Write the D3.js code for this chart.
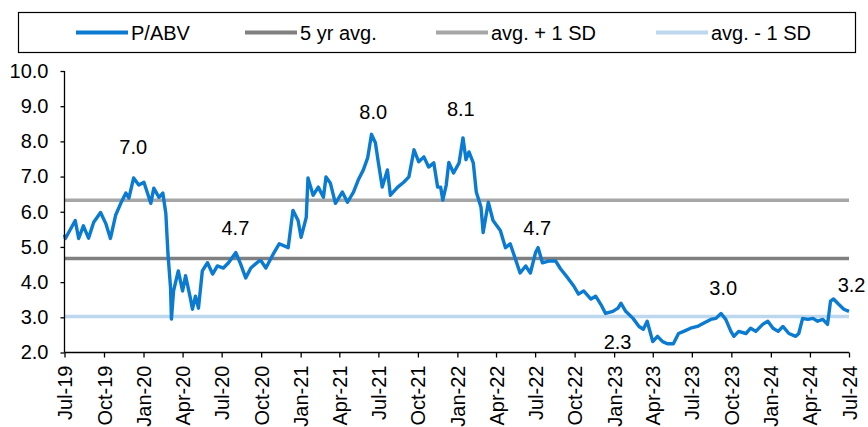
<!DOCTYPE html>
<html>
<head>
<meta charset="utf-8">
<script src="https://cdn.jsdelivr.net/npm/d3@7/dist/d3.min.js"></script>
<style>
  html, body { margin: 0; padding: 0; background: #fff; }
  svg { display: block; font-family: "Liberation Sans", Arial, sans-serif; }
</style>
</head>
<body>
<svg id="chart" width="868" height="427"></svg>
<script>
// ---- data ----
const dates = [
 "2019-07-01","2019-07-03","2019-07-26","2019-08-03","2019-08-14","2019-08-26","2019-09-07","2019-09-23",
 "2019-10-05","2019-10-16","2019-10-28","2019-11-09","2019-11-21","2019-11-28","2019-12-09","2019-12-21",
 "2020-01-02","2020-01-18","2020-01-25","2020-02-06","2020-02-15","2020-02-22","2020-02-27","2020-03-04",
 "2020-03-06","2020-03-11","2020-03-22","2020-04-01","2020-04-08","2020-04-19","2020-04-24","2020-05-01",
 "2020-05-08","2020-05-17","2020-05-29","2020-06-10","2020-06-21","2020-07-05","2020-07-17","2020-08-03",
 "2020-08-14","2020-08-26","2020-09-07","2020-09-26","2020-10-01","2020-10-12","2020-10-31","2020-11-12",
 "2020-12-03","2020-12-14","2020-12-26","2021-01-02","2021-01-14","2021-01-18","2021-01-30","2021-02-11",
 "2021-02-23","2021-03-01","2021-03-11","2021-03-23","2021-04-08","2021-04-20","2021-05-04","2021-05-15",
 "2021-05-27","2021-06-06","2021-06-15","2021-06-24","2021-07-01","2021-07-10","2021-07-22","2021-07-29",
 "2021-08-15","2021-08-29","2021-09-10","2021-09-22","2021-10-03","2021-10-15","2021-10-26","2021-11-07",
 "2021-11-16","2021-11-23","2021-11-28","2021-12-06","2021-12-12","2021-12-23","2022-01-05","2022-01-14",
 "2022-01-21","2022-01-28","2022-02-07","2022-02-14","2022-02-25","2022-03-02","2022-03-14","2022-03-25",
 "2022-04-11","2022-04-23","2022-05-04","2022-05-16","2022-05-27","2022-06-09","2022-06-20","2022-07-02",
 "2022-07-08","2022-07-18","2022-08-01","2022-08-18","2022-08-29","2022-09-15","2022-09-29","2022-10-10",
 "2022-10-22","2022-11-08","2022-11-19","2022-12-01","2022-12-12","2022-12-29","2023-01-10","2023-01-17",
 "2023-01-28","2023-02-14","2023-02-28","2023-03-10","2023-03-19","2023-04-01","2023-04-12","2023-04-24",
 "2023-05-05","2023-05-19","2023-05-31","2023-06-12","2023-06-28","2023-07-14","2023-07-28","2023-08-14",
 "2023-08-26","2023-09-07","2023-09-18","2023-09-30","2023-10-07","2023-10-18","2023-11-04","2023-11-15",
 "2023-11-27","2023-12-13","2023-12-25","2024-01-06","2024-01-18","2024-01-29","2024-02-12","2024-02-28",
 "2024-03-06","2024-03-15","2024-03-27","2024-04-08","2024-04-19","2024-05-01","2024-05-12","2024-05-19",
 "2024-05-26","2024-06-07","2024-06-19","2024-07-01"
];
const pabv = [
 5.35,5.24,5.75,5.24,5.60,5.25,5.70,5.98,
 5.67,5.24,5.90,6.24,6.53,6.39,6.96,6.76,
 6.84,6.24,6.67,6.41,6.53,5.95,4.80,3.83,
 2.95,3.75,4.32,3.75,4.18,3.55,3.23,3.60,
 3.26,4.32,4.55,4.23,4.46,4.40,4.55,4.84,
 4.52,4.12,4.40,4.60,4.60,4.40,4.84,5.09,
 4.98,6.04,5.75,5.27,5.84,6.96,6.47,6.70,
 6.41,6.99,6.82,6.24,6.56,6.27,6.56,6.90,
 7.19,7.53,8.20,7.96,7.39,6.70,7.19,6.47,
 6.70,6.84,6.99,7.76,7.42,7.56,7.27,7.39,
 6.70,6.70,6.33,6.76,7.40,7.10,7.39,8.10,
 7.48,7.70,7.39,6.56,6.13,5.41,6.27,5.75,
 5.47,4.98,5.09,4.66,4.26,4.46,4.26,4.84,
 4.98,4.55,4.60,4.60,4.38,4.12,3.89,3.66,
 3.75,3.52,3.60,3.37,3.11,3.17,3.26,3.40,
 3.17,2.97,2.74,2.66,2.89,2.31,2.46,2.31,
 2.25,2.25,2.54,2.60,2.69,2.74,2.83,2.94,
 2.97,3.11,2.94,2.60,2.46,2.60,2.54,2.69,
 2.60,2.80,2.89,2.69,2.60,2.74,2.54,2.46,
 2.54,2.97,2.94,2.97,2.89,2.94,2.80,3.46,
 3.52,3.37,3.23,3.17
];
const avg5yr = 4.67;
const avgPlus1SD = 6.33;
const avgMinus1SD = 3.02;

const seriesNames = ["P/ABV", "5 yr avg.", "avg. + 1 SD", "avg. - 1 SD"];
const seriesColors = ["#0A7BD1", "#808080", "#A6A6A6", "#BDD7EE"];

const yTicks = [2, 3, 4, 5, 6, 7, 8, 9, 10];
const xTickStart = "2019-07-01", xTickEnd = "2024-07-01";

// annotation labels: text, anchor date, anchor y (in value units)
const annoText  = ["7.0","4.7","8.0","8.1","4.7","2.3","3.0","3.2"];
const annoDate  = ["2019-12-08","2020-08-02","2021-06-19","2022-01-09","2022-07-06","2023-01-09","2023-09-12","2024-07-07"];
const annoY     = [7.84, 5.53, 8.83, 8.92, 5.53, 2.31, 3.82, 3.91];

// ---- drawing ----
const parse = d3.timeParse("%Y-%m-%d");
const svg = d3.select("#chart");
const X0 = 64.5, X1 = 849, Y0 = 352.5, Y1 = 71;

const x = d3.scaleTime().domain([parse(xTickStart), parse(xTickEnd)]).range([X0, X1]);
const y = d3.scaleLinear().domain([2, 10]).range([Y0, Y1]);

const FS = 20;

// legend box
svg.append("rect").attr("x", 18.5).attr("y", 12.5).attr("width", 837).attr("height", 40)
  .attr("fill", "#fff").attr("stroke", "#000").attr("stroke-width", 1.2);
const legX = [76, 245, 436, 656];
seriesNames.forEach((n, i) => {
  const g = svg.append("g");
  g.append("line").attr("x1", legX[i]).attr("x2", legX[i] + 52).attr("y1", 32.5).attr("y2", 32.5)
    .attr("stroke", seriesColors[i]).attr("stroke-width", 4);
  g.append("text").attr("x", legX[i] + 55).attr("y", 40).attr("font-size", FS).attr("fill", "#000").text(n);
});

// reference lines
const refVals = [avg5yr, avgPlus1SD, avgMinus1SD];
refVals.forEach((v, i) => {
  svg.append("line").attr("x1", X0).attr("x2", X1).attr("y1", y(v)).attr("y2", y(v))
    .attr("stroke", seriesColors[i + 1]).attr("stroke-width", 3.5);
});

// main series
const data = dates.map((d, i) => ({ d: parse(d), v: pabv[i] }));
svg.append("path").datum(data)
  .attr("fill", "none").attr("stroke", seriesColors[0]).attr("stroke-width", 3.4)
  .attr("stroke-linejoin", "round")
  .attr("d", d3.line().x(p => x(p.d)).y(p => y(p.v)));

// y axis
const yAxis = svg.append("g").attr("transform", `translate(${X0},0)`)
  .call(d3.axisLeft(y).tickValues(yTicks).tickFormat(d3.format(".1f")).tickSize(4).tickPadding(12));
yAxis.select(".domain").attr("stroke", "#000").attr("stroke-width", 1.3).attr("d", `M0,${Y0}V${Y1}`);
yAxis.selectAll(".tick line").attr("stroke", "#000").attr("stroke-width", 1.3);
yAxis.selectAll("text").attr("font-size", FS).attr("fill", "#000").attr("font-family", "Liberation Sans, Arial, sans-serif");

// x axis
const xTicks = d3.timeMonth.every(3).range(parse(xTickStart), d3.timeDay.offset(parse(xTickEnd), 1));
const xAxis = svg.append("g").attr("transform", `translate(0,${Y0})`)
  .call(d3.axisBottom(x).tickValues(xTicks).tickFormat(d3.timeFormat("%b-%y")).tickSize(5).tickPadding(6));
xAxis.select(".domain").attr("stroke", "#000").attr("stroke-width", 1.3).attr("d", `M${X0},0H${X1}`);
xAxis.selectAll(".tick line").attr("stroke", "#000").attr("stroke-width", 1.3);
xAxis.selectAll("text").attr("font-size", FS).attr("fill", "#000")
  .attr("font-family", "Liberation Sans, Arial, sans-serif")
  .attr("transform", "rotate(-90)").attr("text-anchor", "end")
  .attr("x", -13).attr("y", 0).attr("dy", "0.35em");

// annotations
annoText.forEach((t, i) => {
  svg.append("text").attr("x", x(parse(annoDate[i]))).attr("y", y(annoY[i]))
    .attr("text-anchor", "middle").attr("dy", "0.35em").attr("font-size", FS).attr("fill", "#000").text(t);
});
</script>
</body>
</html>
